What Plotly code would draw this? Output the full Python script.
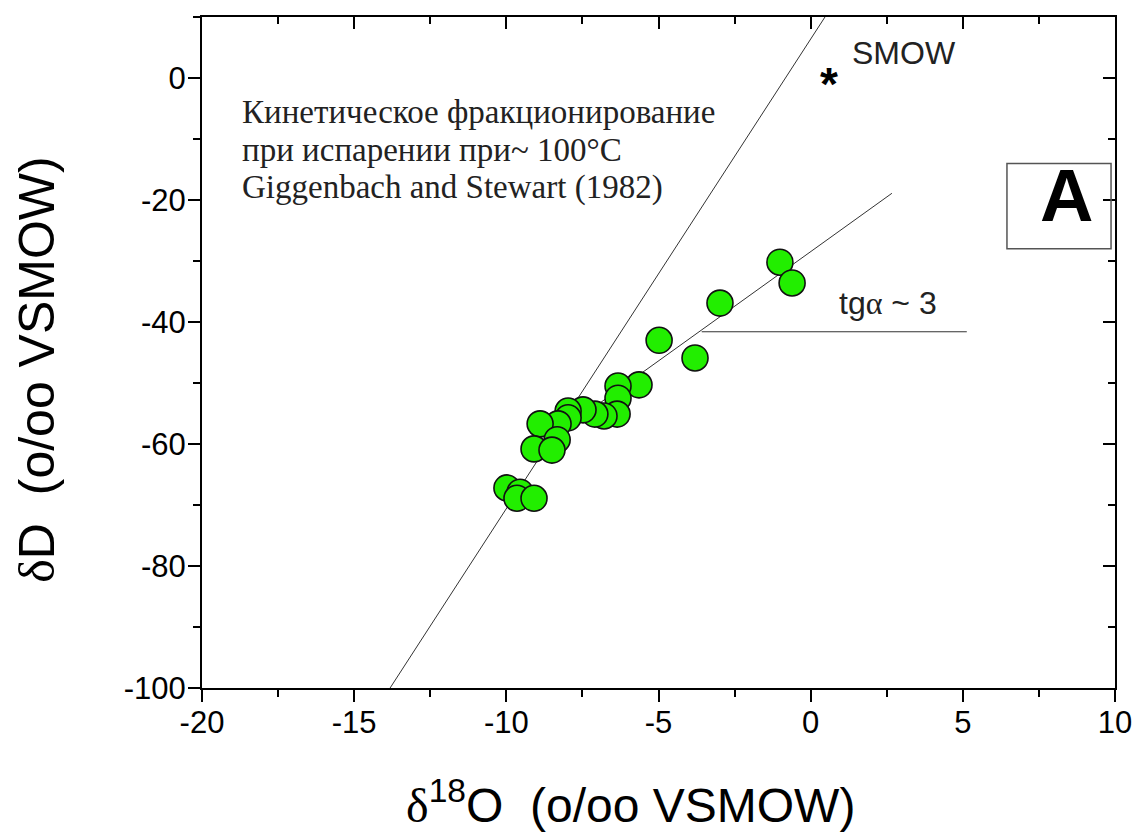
import plotly.graph_objects as go

# ---- data ----
d18O = [-1.01, -0.61, -2.98, -4.98, -3.80, -5.64, -6.33, -6.33, -6.36, -6.79,
        -7.09, -7.48, -7.97, -7.97, -8.30, -8.89, -8.33, -9.09, -8.50, -9.98,
        -9.55, -9.65, -9.09]
dD = [-30.2, -33.6, -36.9, -43.0, -45.9, -50.3, -50.5, -52.5, -55.1, -55.4,
      -55.1, -54.4, -54.6, -55.7, -56.7, -56.7, -59.3, -60.8, -61.0, -67.2,
      -67.9, -68.9, -68.9]

steep_x = [-13.82, 0.47]
steep_y = [-100.0, 10.0]
shallow_x = [-9.22, 2.67]
shallow_y = [-61.5, -18.9]
horiz_x = [-3.58, 5.13]
horiz_y = [-41.6, -41.6]

smow_x = 0.6
smow_y = 0.0

x_ticks = [-20, -15, -10, -5, 0, 5, 10]
x_ticktext = ["-20", "-15", "-10", "-5", "0", "5", "10"]
y_ticks = [-100, -80, -60, -40, -20, 0]
y_ticktext = ["-100", "-80", "-60", "-40", "-20", "0"]

fig = go.Figure()

line_style = dict(color="#333333", width=1)
fig.add_trace(go.Scatter(x=steep_x, y=steep_y, mode="lines", line=line_style,
                         showlegend=False, hoverinfo="skip"))
fig.add_trace(go.Scatter(x=shallow_x, y=shallow_y, mode="lines", line=line_style,
                         showlegend=False, hoverinfo="skip"))
fig.add_trace(go.Scatter(x=horiz_x, y=horiz_y, mode="lines", line=line_style,
                         showlegend=False, hoverinfo="skip"))

fig.add_trace(go.Scatter(
    x=d18O, y=dD, mode="markers",
    marker=dict(size=26, color="#22ee00", line=dict(color="#111111", width=1.6)),
    showlegend=False))

# dummy trace for mirrored (inward) axes
fig.add_trace(go.Scatter(x=[None], y=[None], xaxis="x2", yaxis="y2",
                         showlegend=False, hoverinfo="skip"))

tickfont = dict(family="Liberation Sans, Arial", size=31, color="black")

fig.update_layout(
    width=1124, height=824,
    margin=dict(l=194, r=17, t=9, b=144),
    paper_bgcolor="white", plot_bgcolor="white",
    xaxis=dict(range=[-20, 10], tickvals=x_ticks, ticktext=x_ticktext, ticks="outside", ticklen=12,
               tickwidth=1.5, tickcolor="black", automargin=False, ticklabelstandoff=-6,
               ticklabeloverflow="allow",
               minor=dict(ticks="outside", ticklen=7, dtick=2.5, tickcolor="black", tickwidth=1.5),
               showline=True, linecolor="black", linewidth=2, showgrid=False,
               zeroline=False, tickfont=tickfont),
    yaxis=dict(range=[-100, 10], tickvals=y_ticks, ticktext=y_ticktext, ticks="outside", ticklen=12,
               tickwidth=1.5, tickcolor="black", automargin=False, ticklabelstandoff=-4,
               ticklabeloverflow="allow",
               minor=dict(ticks="outside", ticklen=7, dtick=10, tickcolor="black", tickwidth=1.5),
               showline=True, linecolor="black", linewidth=2, showgrid=False,
               zeroline=False, tickfont=tickfont),
    xaxis2=dict(range=[-20, 10], overlaying="x", side="top", tickvals=x_ticks,
                ticks="inside", ticklen=12, tickwidth=1.5, tickcolor="black", automargin=False,
                minor=dict(ticks="inside", ticklen=7, dtick=2.5, tickcolor="black", tickwidth=1.5),
                showticklabels=False, showline=True, linecolor="black", linewidth=2,
                showgrid=False, zeroline=False),
    yaxis2=dict(range=[-100, 10], overlaying="y", side="right", tickvals=y_ticks,
                ticks="inside", ticklen=12, tickwidth=1.5, tickcolor="black", automargin=False,
                minor=dict(ticks="inside", ticklen=7, dtick=10, tickcolor="black", tickwidth=1.5),
                showticklabels=False, showline=True, linecolor="black", linewidth=2,
                showgrid=False, zeroline=False),
)

# axis titles
fig.add_annotation(x=0.469, y=-0.170, xref="paper", yref="paper", xanchor="center", yanchor="middle",
                   text='<span style="font-family:Liberation Serif">δ</span><sup>18</sup>O  (o/oo VSMOW)',
                   showarrow=False, font=dict(family="Liberation Sans, Arial", size=48, color="black"))
fig.add_annotation(x=-0.181, y=0.474, xref="paper", yref="paper", xanchor="center", yanchor="middle",
                   textangle=-90,
                   text='<span style="font-family:Liberation Serif">δ</span>D  (o/oo VSMOW)',
                   showarrow=False, font=dict(family="Liberation Sans, Arial", size=50, color="black"))

# SMOW marker
fig.add_annotation(x=smow_x, y=smow_y, xref="x", yref="y", xanchor="center", yanchor="middle",
                   text="<b>*</b>", showarrow=False, yshift=-6,
                   font=dict(family="Liberation Sans, Arial", size=46, color="black"))

serif = dict(family="Liberation Serif, Times New Roman", size=33, color="#222222")
fig.add_annotation(x=-18.75, y=-5.6, xref="x", yref="y", xanchor="left", yanchor="middle",
                   text="Кинетическое фракционирование", showarrow=False, font=serif)
fig.add_annotation(x=-18.75, y=-11.8, xref="x", yref="y", xanchor="left", yanchor="middle",
                   text="при испарении при~ 100°C", showarrow=False, font=serif)
fig.add_annotation(x=-18.75, y=-17.9, xref="x", yref="y", xanchor="left", yanchor="middle",
                   text="Giggenbach and Stewart (1982)", showarrow=False, font=serif)

fig.add_annotation(x=1.30, y=4.1, xref="x", yref="y", xanchor="left", yanchor="middle",
                   text="SMOW", showarrow=False,
                   font=dict(family="Liberation Sans, Arial", size=32, color="#222222"))

fig.add_annotation(x=0.87, y=-36.9, xref="x", yref="y", xanchor="left", yanchor="middle",
                   text="tg<span style=\"font-family:Liberation Serif\">α</span> ~ 3", showarrow=False,
                   font=dict(family="Liberation Sans, Arial", size=32, color="#222222"))

# boxed "A" label
fig.add_shape(type="rect", xref="x", yref="y", x0=6.45, x1=9.87, y0=-14.0, y1=-28.0,
              line=dict(color="#555555", width=1.5), fillcolor="rgba(0,0,0,0)")
fig.add_annotation(x=8.39, y=-19.3, xref="x", yref="y", xanchor="center", yanchor="middle",
                   text="<b>A</b>", showarrow=False,
                   font=dict(family="Liberation Sans, Arial", size=74, color="black"))

fig.write_html("out.html")
